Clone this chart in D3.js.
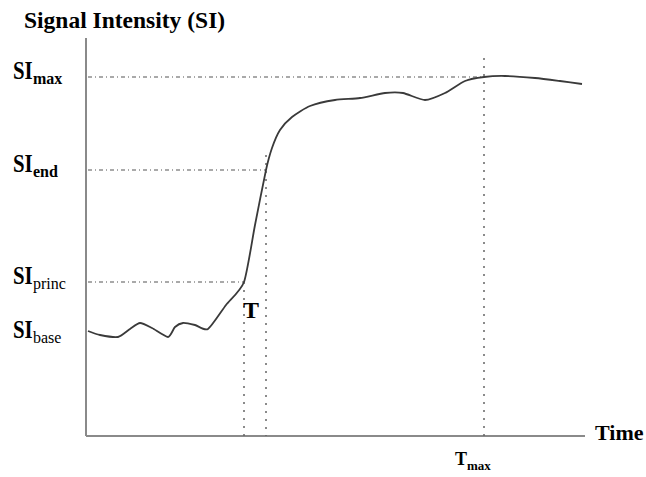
<!DOCTYPE html>
<html>
<head>
<meta charset="utf-8">
<script src="https://cdn.jsdelivr.net/npm/d3@7"></script>
<style>
  body { margin: 0; background: #fff; }
</style>
</head>
<body>
<div id="res"></div>
<script>
/* curve data: time (arbitrary units) and signal intensity */
var times = [0.2, 1.4, 3.2, 4.4, 5.4, 6.6, 8.2, 8.9, 9.7, 10.9, 12.2, 14.0, 15.8, 16.9, 18.0, 18.6, 19.4, 20.6, 22.4, 24.9, 27.4, 29.9, 31.7, 33.9, 35.9, 37.9, 39.8, 41.9, 44.9, 47.4, 49.6];
var signal = [10.5, 10.1, 9.9, 10.7, 11.3, 10.8, 9.9, 10.9, 11.3, 11.1, 10.7, 13.1, 15.4, 21.1, 26.6, 28.8, 30.6, 31.9, 33.0, 33.6, 33.8, 34.3, 34.3, 33.6, 34.3, 35.5, 35.9, 36.0, 35.8, 35.5, 35.2];

/* reference levels */
var levelNames = ["max", "end", "princ", "base"];
var levelValues = [35.9, 26.6, 15.4, 10.0];
var levelTimes = [39.8, 18.0, 15.8, null];   // where the dashed line meets the curve

/* vertical guides: time and top of the guide */
var guideTimes = [15.8, 18.0, 39.8];
var guideTops = [15.4, 28.1, 37.8];

/* size of the graphic */
var width = 646, height = 477;
var serif = "'Liberation Serif', 'DejaVu Serif', 'Times New Roman', serif";

var svg = d3.select("#res")
  .append("svg")
    .attr("width", width)
    .attr("height", height)
    .attr("font-family", serif);

var x = d3.scaleLinear().domain([0, 50]).range([86, 586]);
var y = d3.scaleLinear().domain([0, 40]).range([436, 36]);

/* axes (plain lines, no ticks) */
svg.append("line")
  .attr("x1", x(0)).attr("x2", x(0))
  .attr("y1", y(39.8)).attr("y2", y(0))
  .style("stroke", "#8a8a8a").attr("stroke-width", 2);
svg.append("line")
  .attr("x1", x(0)).attr("x2", x(49.9))
  .attr("y1", y(0)).attr("y2", y(0))
  .style("stroke", "#8a8a8a").attr("stroke-width", 2);

/* horizontal dash-dot lines */
for (var i = 0; i < levelNames.length; i++) {
  if (levelTimes[i] === null) continue;
  svg.append("line")
    .attr("x1", x(0.2)).attr("x2", x(levelTimes[i]))
    .attr("y1", y(levelValues[i])).attr("y2", y(levelValues[i]))
    .style("stroke", "#555")
    .style("stroke-dasharray", "4,3,1,3")
    .attr("stroke-width", 1.2);
}

/* vertical dotted lines */
for (var j = 0; j < guideTimes.length; j++) {
  svg.append("line")
    .attr("x1", x(guideTimes[j])).attr("x2", x(guideTimes[j]))
    .attr("y1", y(guideTops[j])).attr("y2", y(0))
    .style("stroke", "#666")
    .style("stroke-dasharray", "2,6")
    .attr("stroke-width", 1.5);
}

/* signal curve */
var line = d3.line()
  .x(function(d, k) { return x(times[k]); })
  .y(function(d) { return y(d); })
  .curve(d3.curveCardinal.tension(0.35));

svg.append("path")
  .datum(signal)
  .attr("d", line)
  .style("fill", "none")
  .style("stroke", "#3a3a3a")
  .attr("stroke-width", 1.8);

/* y axis title */
svg.append("text")
  .attr("x", 24).attr("y", 28)
  .style("font-family", serif)
  .style("font-size", "23.5px").style("font-weight", "bold")
  .text("Signal Intensity (SI)");

/* level labels: SI with subscript */
for (var m = 0; m < levelNames.length; m++) {
  var yb = y(levelValues[m]) + 2;
  svg.append("text")
    .attr("transform", "translate(13," + yb + ") scale(0.8,1)")
    .style("font-family", serif)
    .style("font-size", "26px").style("font-weight", "bold")
    .text("SI");
  svg.append("text")
    .attr("x", 33).attr("y", yb + 5)
    .style("font-family", serif)
    .style("font-size", "16px")
    .style("font-weight", (m < 2) ? "bold" : "normal")
    .text(levelNames[m]);
}

/* T marker between the two left guides */
svg.append("text")
  .attr("x", 251)
  .attr("y", 318)
  .attr("text-anchor", "middle")
  .style("font-family", serif)
  .style("font-size", "24px").style("font-weight", "bold")
  .text("T");

/* x axis label */
svg.append("text")
  .attr("x", 595).attr("y", 440)
  .style("font-family", serif)
  .style("font-size", "22px").style("font-weight", "bold")
  .text("Time");

/* T max label */
var tm = svg.append("text")
  .attr("x", 455).attr("y", 465)
  .style("font-family", serif)
  .style("font-weight", "bold");
tm.append("tspan").style("font-size", "18px").text("T");
tm.append("tspan").attr("dy", 5).style("font-size", "13px").text("max");
</script>
</body>
</html>
